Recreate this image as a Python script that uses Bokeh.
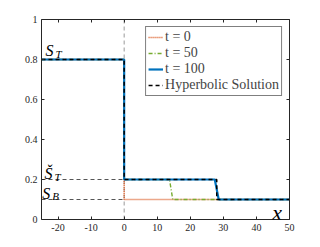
from bokeh.plotting import figure
from bokeh.models import (LinearAxis, FixedTicker, CustomJSTickFormatter, Label,
                          Legend, LegendItem, Range1d)
from bokeh.embed import file_html
from bokeh.resources import INLINE

# ---- data ----
x_min, x_max = -25, 50
S_T, S_T_check, S_B = 0.8, 0.2, 0.1

t0_x = [-25, 0, 0, 50]
t0_y = [0.8, 0.8, 0.1, 0.1]
t50_x = [-25, 0, 0, 13.7, 14.7, 50]
t50_y = [0.8, 0.8, 0.2, 0.2, 0.1, 0.1]
t100_x = [-25, 0, 0, 27.4, 28.6, 50]
t100_y = [0.8, 0.8, 0.2, 0.2, 0.1, 0.1]
hyp_x = [-25, 0, 0, 28.0, 28.0, 50]
hyp_y = [0.8, 0.8, 0.2, 0.2, 0.1, 0.1]

x_ticks = [-20, -10, 0, 10, 20, 30, 40, 50]
x_tick_labels = ["-20", "-10", "0", "10", "20", "30", "40", "50"]
y_ticks = [0, 0.2, 0.4, 0.6, 0.8, 1]
y_tick_labels = ["0", "0.2", "0.4", "0.6", "0.8", "1"]
legend_labels = ["t = 0", "t = 50", "t = 100", "Hyperbolic Solution"]

SERIF = "Liberation Serif"
AX = "#262626"

p = figure(frame_width=248, frame_height=200, output_backend="svg",
           toolbar_location=None, x_range=Range1d(x_min, x_max),
           y_range=Range1d(0, 1), min_border_left=41, min_border_top=19,
           min_border_right=10, min_border_bottom=20, background_fill_color="white",
           outline_line_color=None)
p.grid.visible = False

# reference guides
p.line([0, 0], [0, 1], line_color="#999999", line_dash="4 3", line_width=1)
p.line([x_min, 0], [S_T_check, S_T_check], line_color="#555555", line_dash="4 3", line_width=1)
p.line([x_min, 0], [S_B, S_B], line_color="#555555", line_dash="4 3", line_width=1)

r0 = p.line(t0_x, t0_y, line_color="#D95319", line_dash="1 1", line_width=1.6)
r50 = p.line(t50_x, t50_y, line_color="#77AC30", line_dash="4 2 1 2", line_width=1.4)
r100 = p.line(t100_x, t100_y, line_color="#0072BD", line_width=2.2)
rh = p.line(hyp_x, hyp_y, line_color="black", line_dash="4 3", line_width=1.5)

# axes
for ax in p.xaxis:
    ax.ticker = FixedTicker(ticks=x_ticks)
    ax.major_label_overrides = {t: l for t, l in zip(x_ticks, x_tick_labels)}
for ax in p.yaxis:
    ax.ticker = FixedTicker(ticks=y_ticks)
    ax.major_label_overrides = {t: l for t, l in zip(y_ticks, y_tick_labels)}

def style(ax):
    ax.axis_line_color = AX
    ax.axis_line_width = 1
    ax.major_tick_line_color = AX
    ax.major_tick_in = 3
    ax.major_tick_out = 0
    ax.minor_tick_line_color = None
    ax.major_label_text_font = SERIF
    ax.major_label_text_font_size = "10px"
    ax.major_label_text_color = AX
    ax.major_label_standoff = 4

for ax in p.xaxis + p.yaxis:
    style(ax)

top = LinearAxis(ticker=FixedTicker(ticks=x_ticks),
                 formatter=CustomJSTickFormatter(code="return ''"))
right = LinearAxis(ticker=FixedTicker(ticks=y_ticks),
                   formatter=CustomJSTickFormatter(code="return ''"))
for ax in (top, right):
    style(ax)
    ax.major_label_standoff = 0
p.add_layout(top, "above")
p.add_layout(right, "right")

# annotations
def sym(x, y, main, sub):
    p.add_layout(Label(x=x, y=y, text=main, text_font=SERIF, text_font_style="italic",
                       text_font_size="16px", text_color="black", text_baseline="alphabetic"))
    p.add_layout(Label(x=x, y=y, x_offset=10, y_offset=-3, text=sub, text_font=SERIF,
                       text_font_style="italic", text_font_size="11px", text_color="black",
                       text_baseline="alphabetic"))

sym(-23.8, S_T + 0.045, "S", "T")
sym(-24.1, S_T_check + 0.03, "Š", "T")
sym(-24.8, S_B + 0.032, "S", "B")

p.add_layout(Label(x=44.8, y=0.035, text="x", text_font=SERIF, text_font_style="italic",
                   text_font_size="22px", text_color="black", text_baseline="alphabetic"))

legend = Legend(items=[LegendItem(label=l, renderers=[r]) for l, r in
                       zip(legend_labels, [r0, r50, r100, rh])],
                location="top_right", margin=7, padding=2, spacing=0,
                glyph_width=15, glyph_height=12, label_standoff=2, label_height=15,
                label_text_font=SERIF, label_text_font_size="14px",
                border_line_color="black", border_line_width=1,
                background_fill_alpha=1)
p.add_layout(legend, "center")

open("out.html", "w").write(file_html(p, INLINE))
